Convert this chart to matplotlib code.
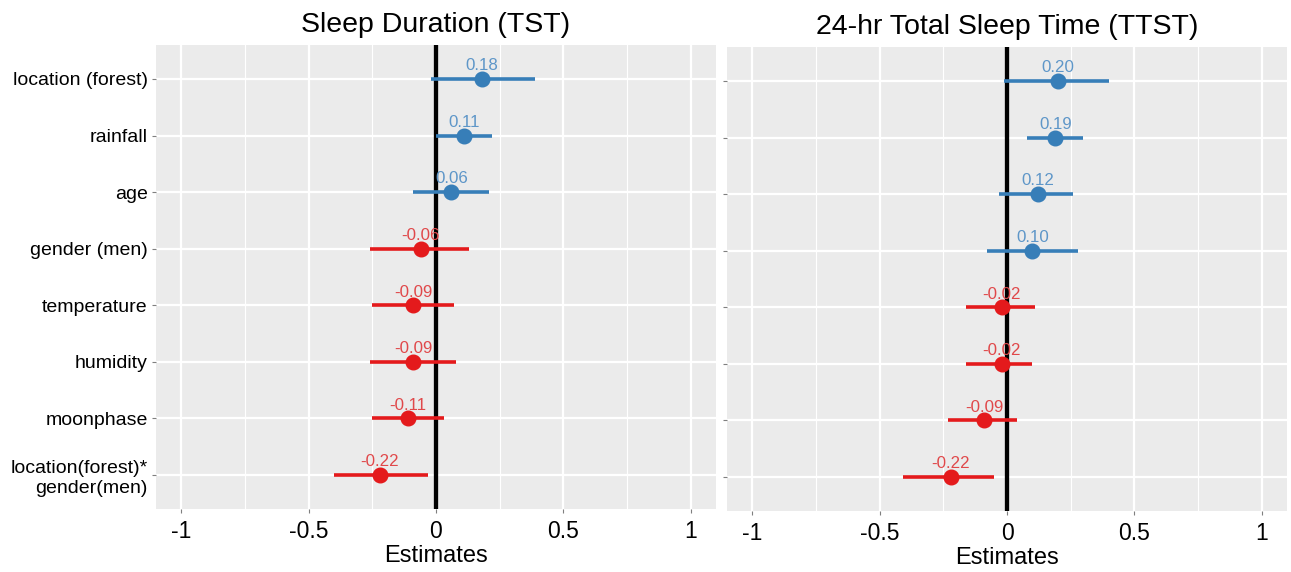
import matplotlib
matplotlib.use("Agg")
import matplotlib.pyplot as plt
import numpy as np

plt.rcParams['font.family'] = ['Liberation Sans', 'DejaVu Sans']

terms = ["location (forest)", "rainfall", "age", "gender (men)", "temperature",
         "humidity", "moonphase", "location(forest)*\ngender(men)"]

tst_est = [0.18, 0.11, 0.06, -0.06, -0.09, -0.09, -0.11, -0.22]
tst_lo = [-0.02, 0.00, -0.09, -0.26, -0.25, -0.26, -0.25, -0.40]
tst_hi = [0.39, 0.22, 0.21, 0.13, 0.07, 0.08, 0.03, -0.03]

ttst_est = [0.20, 0.19, 0.12, 0.10, -0.02, -0.02, -0.09, -0.22]
ttst_lo = [-0.01, 0.08, -0.03, -0.08, -0.16, -0.16, -0.23, -0.41]
ttst_hi = [0.40, 0.30, 0.26, 0.28, 0.11, 0.10, 0.04, -0.05]

titles = ["Sleep Duration (TST)", "24-hr Total Sleep Time (TTST)"]
xticks = [-1, -0.5, 0, 0.5, 1]
xticklabels = ["-1", "-0.5", "0", "0.5", "1"]

BLUE = "#377EB8"
RED = "#E41A1C"
BLUE_T = "#5E96C8"
RED_T = "#E0484A"

fig = plt.figure(figsize=(12.91, 5.72), dpi=100)
axes = [fig.add_axes([156/1291, 1-509/572, 560/1291, 464/572]),
        fig.add_axes([727/1291, 1-511/572, 560/1291, 464/572])]

n = len(terms)
ypos = np.arange(n, 0, -1)

for k, (ax, est, lo, hi, title) in enumerate(zip(
        axes, [tst_est, ttst_est], [tst_lo, ttst_lo], [tst_hi, ttst_hi], titles)):
    ax.set_facecolor("#EBEBEB")
    for s in ax.spines.values():
        s.set_visible(False)
    ax.set_xlim(-1.1, 1.1)
    ax.set_ylim(0.4, n + 0.6)
    for xv in [-0.75, -0.25, 0.25, 0.75]:
        ax.axvline(xv, color="white", lw=0.8, zorder=0)
    for xv in xticks:
        ax.axvline(xv, color="white", lw=1.6, zorder=0)
    for yv in ypos:
        ax.axhline(yv, color="white", lw=1.6, zorder=0)
    ax.axvline(0, color="black", lw=3.1, zorder=2)
    for i in range(n):
        c = BLUE if est[i] > 0 else RED
        ct = BLUE_T if est[i] > 0 else RED_T
        ax.plot([lo[i], hi[i]], [ypos[i], ypos[i]], color=c, lw=2.6,
                solid_capstyle="butt", zorder=3)
        ax.plot(est[i], ypos[i], "o", color=c, ms=10.5, mec=c, zorder=4)
        ax.text(est[i], ypos[i] + 0.10, f"{est[i]:.2f}", color=ct,
                ha="center", va="bottom", fontsize=12.2, zorder=5)
    ax.set_xticks(xticks)
    ax.set_xticklabels(xticklabels, fontsize=16.5)
    ax.set_yticks(ypos)
    if k == 0:
        ax.set_yticklabels(terms, fontsize=14)
    else:
        ax.set_yticklabels([])
    ax.tick_params(axis="both", length=3, color="#7F7F7F", width=0.8, pad=3)
    ax.tick_params(axis="x", pad=5)
    ax.set_xlabel("Estimates", fontsize=17, labelpad=1)
    ax.set_title(title, fontsize=20.5, pad=9)

fig.savefig("out.png", dpi=100)
